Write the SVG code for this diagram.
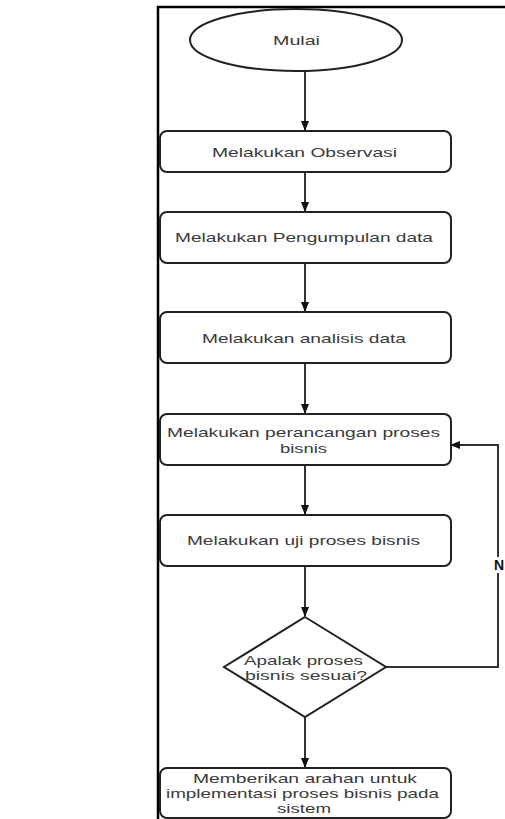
<svg xmlns="http://www.w3.org/2000/svg" width="505" height="819" viewBox="0 0 505 819">
<defs>
<marker id="arr" markerWidth="10" markerHeight="8" refX="9" refY="4" orient="auto" markerUnits="userSpaceOnUse">
<path d="M0,0 L10,4 L0,8 Z" fill="#111"/>
</marker>
<style>
.shape{fill:#fff;stroke:#222;stroke-width:2}
.t{font-family:"Liberation Sans",Arial,sans-serif;font-size:13px;fill:#3a3a3a}
.c{fill:none;stroke:#333;stroke-width:2}
.frame{fill:none;stroke:#000;stroke-width:2.5}
</style>
</defs>
<rect x="0" y="0" width="505" height="819" fill="#fff"/>
<path class="frame" d="M158,819 L158,7 L505,7"/>
<g id="connectors">
<line class="c" x1="305" y1="71" x2="305" y2="130" marker-end="url(#arr)"/>
<line class="c" x1="305" y1="172" x2="305" y2="211" marker-end="url(#arr)"/>
<line class="c" x1="305" y1="263" x2="305" y2="311" marker-end="url(#arr)"/>
<line class="c" x1="305" y1="363" x2="305" y2="413" marker-end="url(#arr)"/>
<line class="c" x1="305" y1="465" x2="305" y2="514" marker-end="url(#arr)"/>
<line class="c" x1="305" y1="566" x2="305" y2="616" marker-end="url(#arr)"/>
<line class="c" x1="305" y1="717" x2="305" y2="767" marker-end="url(#arr)"/>
<path class="c" d="M386,667 L498,667 L498,445 L451,445" stroke="#555" marker-end="url(#arr)"/>
<rect x="491" y="557" width="14" height="16" fill="#fff"/>
<text x="499" y="570" text-anchor="middle" font-family="Liberation Sans,Arial,sans-serif" font-size="14" font-weight="bold" fill="#111">N</text>
</g>
<g id="start">
<ellipse class="shape" cx="296" cy="40" rx="106" ry="31"/>
<text class="t" x="273" y="45" textLength="47" lengthAdjust="spacingAndGlyphs">Mulai</text>
</g>
<g id="observasi">
<rect class="shape" x="160" y="131" width="291" height="41" rx="7"/>
<text class="t" x="212" y="157" textLength="185" lengthAdjust="spacingAndGlyphs">Melakukan Observasi</text>
</g>
<g id="pengumpulan">
<rect class="shape" x="160" y="212" width="291" height="51" rx="7"/>
<text class="t" x="175" y="242" textLength="258" lengthAdjust="spacingAndGlyphs">Melakukan Pengumpulan data</text>
</g>
<g id="analisis">
<rect class="shape" x="160" y="312" width="291" height="51" rx="7"/>
<text class="t" x="202" y="343" textLength="204" lengthAdjust="spacingAndGlyphs">Melakukan analisis data</text>
</g>
<g id="perancangan">
<rect class="shape" x="160" y="414" width="291" height="51" rx="7"/>
<text class="t" x="167" y="437" textLength="273" lengthAdjust="spacingAndGlyphs">Melakukan perancangan proses</text>
<text class="t" x="280" y="453" textLength="47" lengthAdjust="spacingAndGlyphs">bisnis</text>
</g>
<g id="uji">
<rect class="shape" x="160" y="515" width="291" height="51" rx="7"/>
<text class="t" x="187" y="545" textLength="233" lengthAdjust="spacingAndGlyphs">Melakukan uji proses bisnis</text>
</g>
<g id="decision">
<polygon class="shape" points="305,617 386,667 305,717 224,667"/>
<text class="t" x="244" y="665" textLength="119" lengthAdjust="spacingAndGlyphs">Apalak proses</text>
<text class="t" x="245" y="680" textLength="122" lengthAdjust="spacingAndGlyphs">bisnis sesuai?</text>
</g>
<g id="implementasi">
<rect class="shape" x="160" y="768" width="291" height="50" rx="7"/>
<text class="t" x="193" y="783" textLength="224" lengthAdjust="spacingAndGlyphs">Memberikan arahan untuk</text>
<text class="t" x="166" y="798" textLength="273" lengthAdjust="spacingAndGlyphs">implementasi proses bisnis pada</text>
<text class="t" x="277" y="813" textLength="54" lengthAdjust="spacingAndGlyphs">sistem</text>
</g>
</svg>
